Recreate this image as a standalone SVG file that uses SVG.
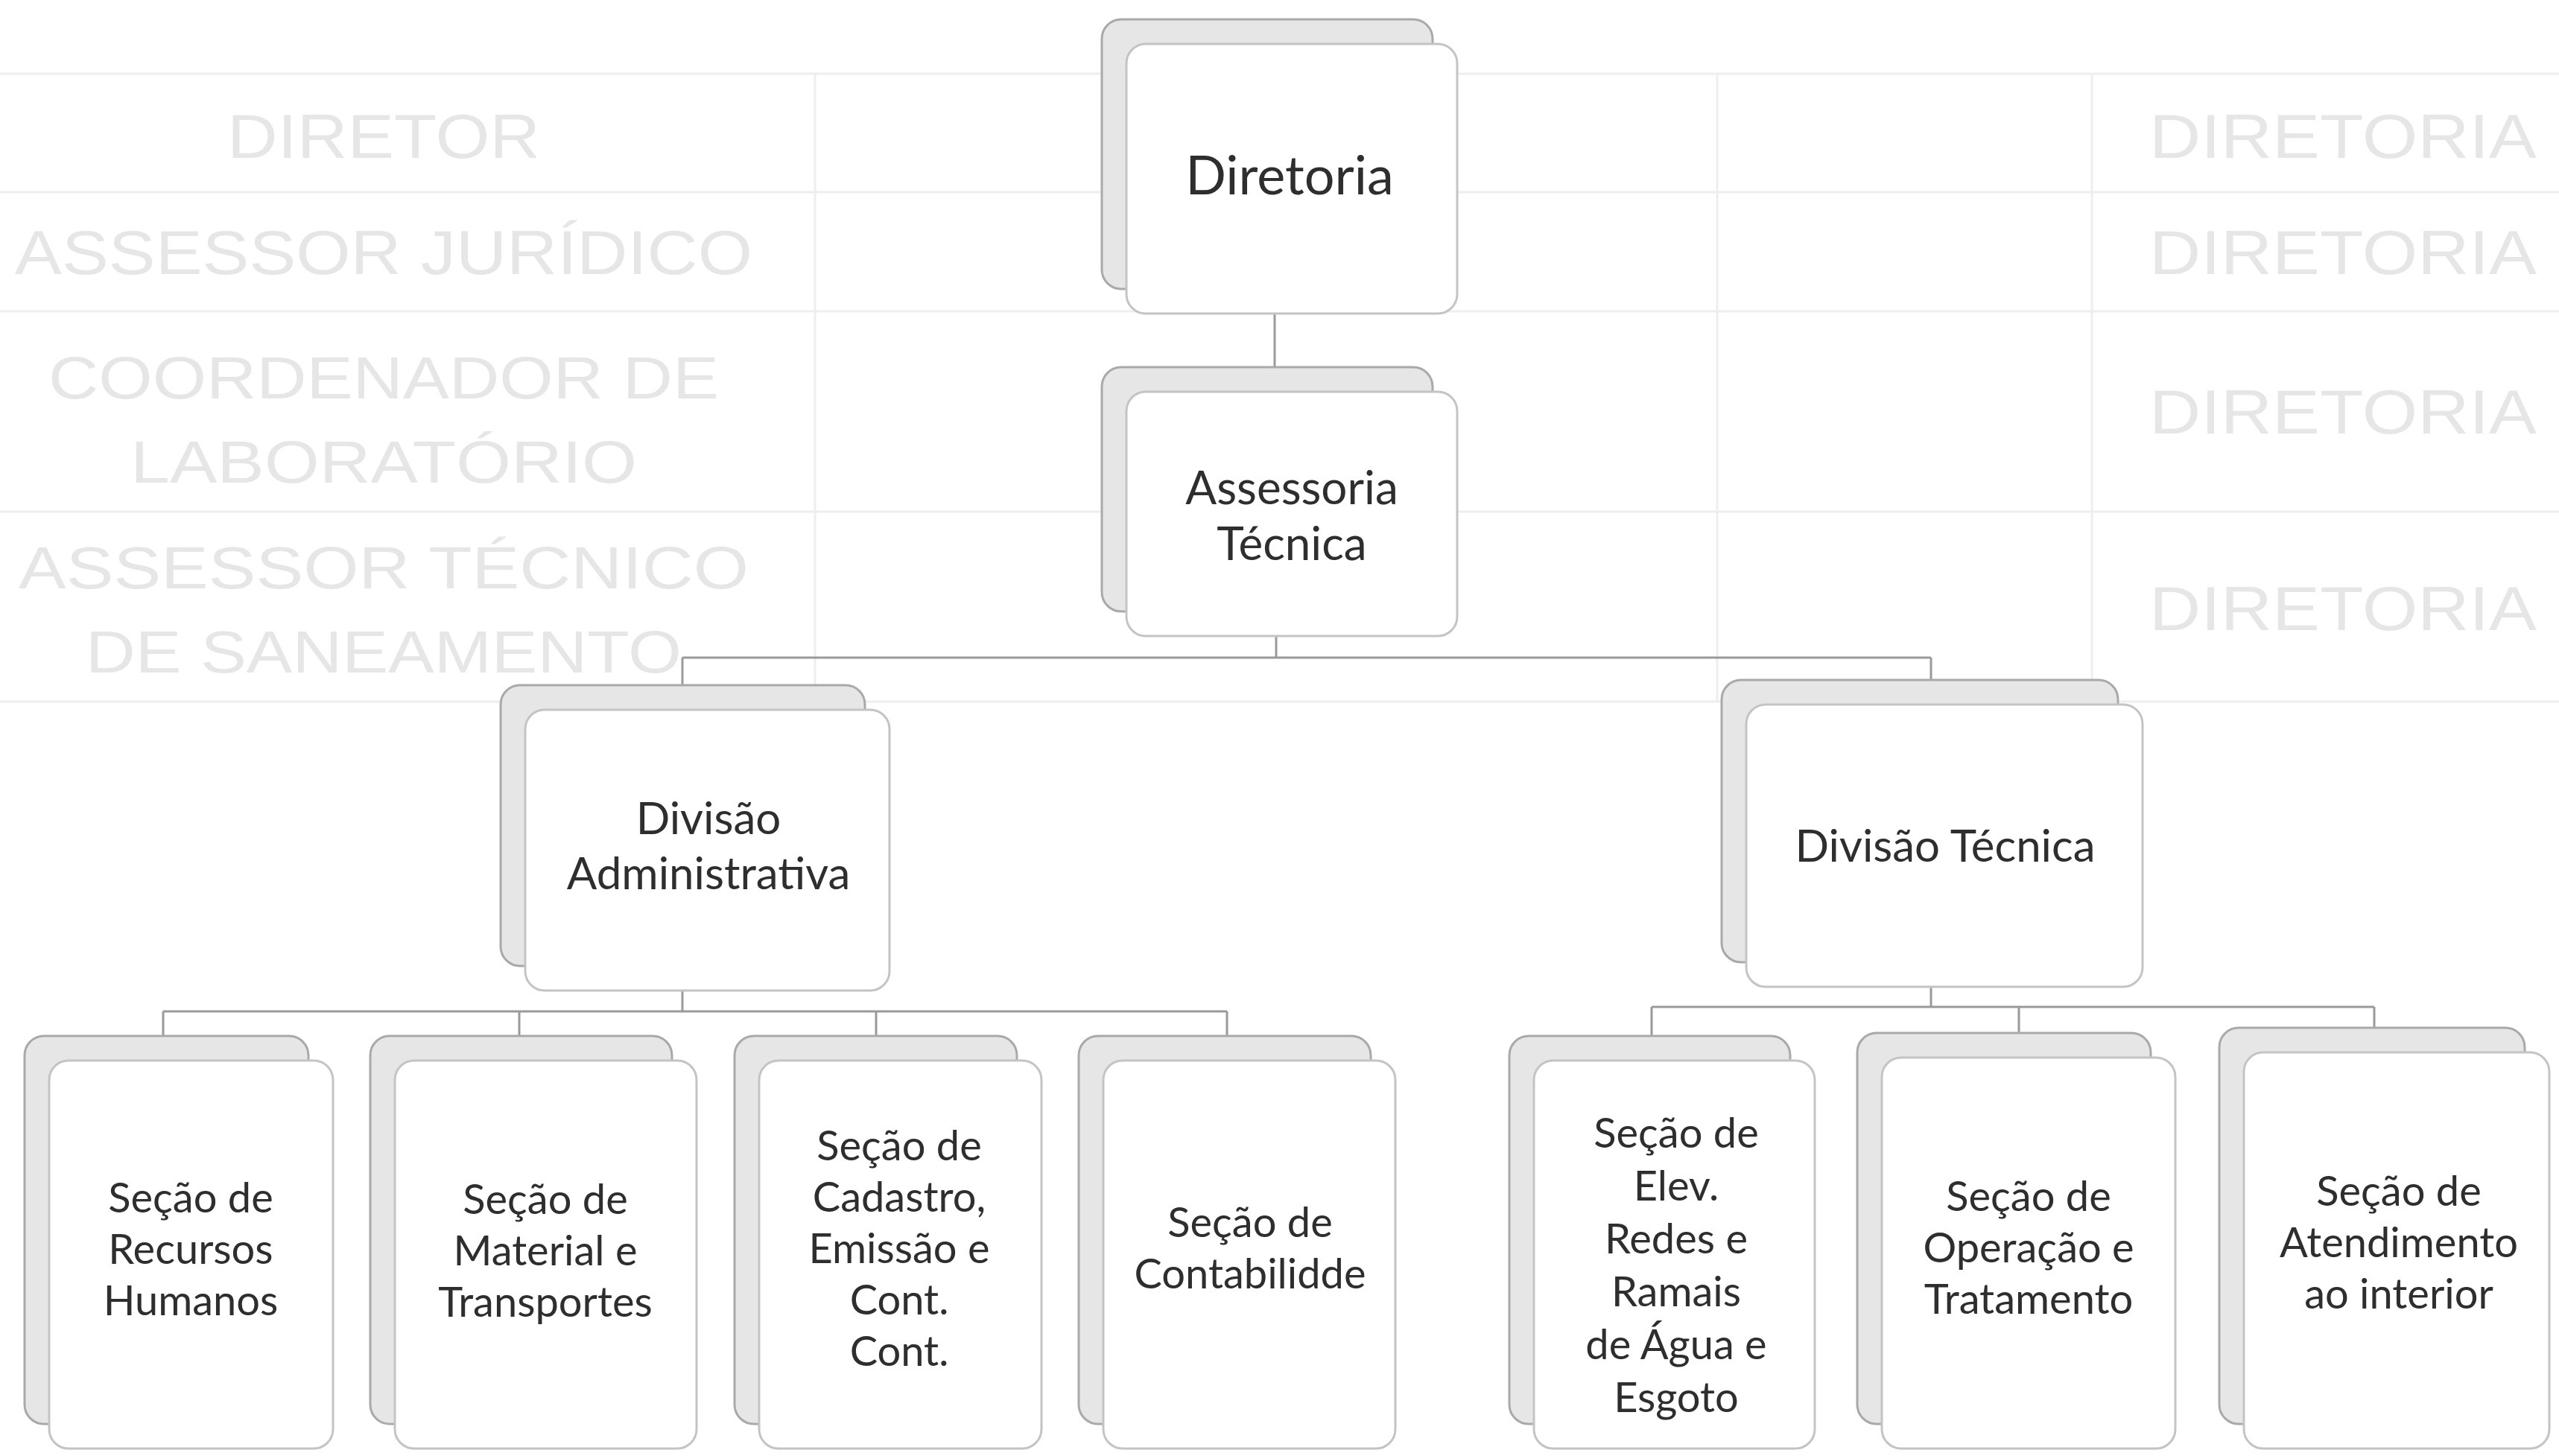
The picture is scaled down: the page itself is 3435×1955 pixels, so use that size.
<svg xmlns="http://www.w3.org/2000/svg" width="3435" height="1955" viewBox="0 0 3435 1955">
<style>
.back{fill:#e6e6e6;stroke:#a9a9a9;stroke-width:3}
.front{fill:#ffffff;stroke:#c4c4c4;stroke-width:3}
.t{font-family:Lato,"Open Sans","Liberation Sans",sans-serif;fill:#2e2e2e;text-anchor:middle}
.conn{fill:none;stroke:#9a9a9a;stroke-width:3}
.gl{stroke:#eeeeee;stroke-width:3}
.gt{font-family:"Liberation Sans",sans-serif;fill:#e6e6e6;text-anchor:middle}
</style>
<rect width="3435" height="1955" fill="#ffffff"/>
<g id="ghost">
<line class="gl" x1="0" y1="99" x2="3435" y2="99"/>
<line class="gl" x1="0" y1="258" x2="3435" y2="258"/>
<line class="gl" x1="0" y1="418" x2="3435" y2="418"/>
<line class="gl" x1="0" y1="687" x2="3435" y2="687"/>
<line class="gl" x1="0" y1="942" x2="3435" y2="942"/>
<line class="gl" x1="1094" y1="99" x2="1094" y2="942"/>
<line class="gl" x1="2305" y1="99" x2="2305" y2="942"/>
<line class="gl" x1="2808" y1="99" x2="2808" y2="942"/>
<text class="gt" x="515" y="212" font-size="84" textLength="420" lengthAdjust="spacingAndGlyphs">DIRETOR</text>
<text class="gt" x="515" y="368" font-size="84" textLength="990" lengthAdjust="spacingAndGlyphs">ASSESSOR JURÍDICO</text>
<text class="gt" x="515" y="535" font-size="80" textLength="900" lengthAdjust="spacingAndGlyphs">COORDENADOR DE</text>
<text class="gt" x="515" y="648" font-size="80" textLength="680" lengthAdjust="spacingAndGlyphs">LABORATÓRIO</text>
<text class="gt" x="515" y="790" font-size="80" textLength="980" lengthAdjust="spacingAndGlyphs">ASSESSOR TÉCNICO</text>
<text class="gt" x="515" y="903" font-size="80" textLength="800" lengthAdjust="spacingAndGlyphs">DE SANEAMENTO</text>
<text class="gt" x="3145" y="212" font-size="84" textLength="520" lengthAdjust="spacingAndGlyphs">DIRETORIA</text>
<text class="gt" x="3145" y="368" font-size="84" textLength="520" lengthAdjust="spacingAndGlyphs">DIRETORIA</text>
<text class="gt" x="3145" y="582" font-size="84" textLength="520" lengthAdjust="spacingAndGlyphs">DIRETORIA</text>
<text class="gt" x="3145" y="846" font-size="84" textLength="520" lengthAdjust="spacingAndGlyphs">DIRETORIA</text>
</g>
<g id="connectors">
<path class="conn" d="M1711 421 V493"/>
<path class="conn" d="M1713 854 V883 M916 883 H2592 M916 883 V920 M2592 883 V914"/>
<path class="conn" d="M916 1330 V1358 M219 1358 H1647 M219 1358 V1391 M697 1358 V1391 M1176 1358 V1391 M1647 1358 V1391"/>
<path class="conn" d="M2592 1325 V1352 M2217 1352 H3187 M2217 1352 V1391 M2710 1352 V1387 M3187 1352 V1380"/>
</g>
<g id="diretoria">
<rect class="back" x="1479" y="26" width="444" height="362" rx="26"/>
<rect class="front" x="1512" y="59" width="444" height="362" rx="26"/>
<text class="t" x="1731" y="261" font-size="72">Diretoria</text>
</g>
<g id="assessoria-tecnica">
<rect class="back" x="1479" y="493" width="444" height="328" rx="26"/>
<rect class="front" x="1512" y="526" width="444" height="328" rx="26"/>
<text class="t" x="1734" y="677" font-size="62">Assessoria</text>
<text class="t" x="1734" y="752" font-size="62">Técnica</text>
</g>
<g id="divisao-administrativa">
<rect class="back" x="672" y="920" width="489" height="377" rx="26"/>
<rect class="front" x="705" y="953" width="489" height="377" rx="26"/>
<text class="t" x="951" y="1120" font-size="60">Divisão</text>
<text class="t" x="951" y="1194" font-size="60">Administrativa</text>
</g>
<g id="divisao-tecnica">
<rect class="back" x="2311" y="913" width="532" height="379" rx="26"/>
<rect class="front" x="2344" y="946" width="532" height="379" rx="26"/>
<text class="t" x="2611" y="1157" font-size="60">Divisão Técnica</text>
</g>
<g id="secao-recursos-humanos">
<rect class="back" x="33" y="1391" width="381" height="521" rx="26"/>
<rect class="front" x="66" y="1424" width="381" height="521" rx="26"/>
<text class="t" x="256" y="1628" font-size="56">Seção de</text>
<text class="t" x="256" y="1697" font-size="56">Recursos</text>
<text class="t" x="256" y="1766" font-size="56">Humanos</text>
</g>
<g id="secao-material-transportes">
<rect class="back" x="497" y="1391" width="405" height="521" rx="26"/>
<rect class="front" x="530" y="1424" width="405" height="521" rx="26"/>
<text class="t" x="732" y="1630" font-size="56">Seção de</text>
<text class="t" x="732" y="1699" font-size="56">Material e</text>
<text class="t" x="732" y="1768" font-size="56">Transportes</text>
</g>
<g id="secao-cadastro">
<rect class="back" x="986" y="1391" width="379" height="521" rx="26"/>
<rect class="front" x="1019" y="1424" width="379" height="521" rx="26"/>
<text class="t" x="1207" y="1558" font-size="56">Seção de</text>
<text class="t" x="1207" y="1627" font-size="56">Cadastro,</text>
<text class="t" x="1207" y="1696" font-size="56">Emissão e</text>
<text class="t" x="1207" y="1765" font-size="56">Cont.</text>
<text class="t" x="1207" y="1834" font-size="56">Cont.</text>
</g>
<g id="secao-contabilidade">
<rect class="back" x="1448" y="1391" width="392" height="521" rx="26"/>
<rect class="front" x="1481" y="1424" width="392" height="521" rx="26"/>
<text class="t" x="1678" y="1661" font-size="56">Seção de</text>
<text class="t" x="1678" y="1730" font-size="56">Contabilidde</text>
</g>
<g id="secao-elev-redes">
<rect class="back" x="2026" y="1391" width="377" height="521" rx="26"/>
<rect class="front" x="2059" y="1424" width="377" height="521" rx="26"/>
<text class="t" x="2250" y="1541" font-size="56">Seção de</text>
<text class="t" x="2250" y="1612" font-size="56">Elev.</text>
<text class="t" x="2250" y="1683" font-size="56">Redes e</text>
<text class="t" x="2250" y="1754" font-size="56">Ramais</text>
<text class="t" x="2250" y="1825" font-size="56">de Água e</text>
<text class="t" x="2250" y="1896" font-size="56">Esgoto</text>
</g>
<g id="secao-operacao-tratamento">
<rect class="back" x="2493" y="1387" width="394" height="525" rx="26"/>
<rect class="front" x="2526" y="1420" width="394" height="525" rx="26"/>
<text class="t" x="2723" y="1626" font-size="56">Seção de</text>
<text class="t" x="2723" y="1695" font-size="56">Operação e</text>
<text class="t" x="2723" y="1764" font-size="56">Tratamento</text>
</g>
<g id="secao-atendimento-interior">
<rect class="back" x="2979" y="1380" width="410" height="532" rx="26"/>
<rect class="front" x="3012" y="1413" width="410" height="532" rx="26"/>
<text class="t" x="3220" y="1619" font-size="56">Seção de</text>
<text class="t" x="3220" y="1688" font-size="56">Atendimento</text>
<text class="t" x="3220" y="1757" font-size="56">ao interior</text>
</g>
</svg>
